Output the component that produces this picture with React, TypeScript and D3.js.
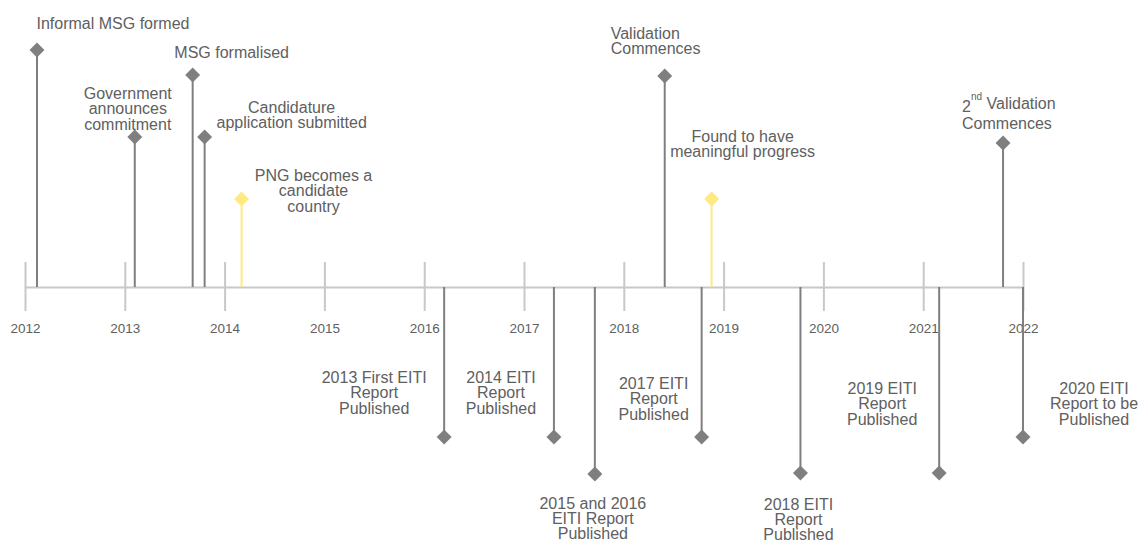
import React, { useRef, useEffect } from 'react'
import * as d3 from 'd3'

// year ticks along the timeline
const yearTicks = [2012, 2013, 2014, 2015, 2016, 2017, 2018, 2019, 2020, 2021, 2022]

// events: label (lines split by \n), date as fractional year, stem level (+ above, - below)
const eventNames = [
  'Informal MSG formed',
  'Government\nannounces\ncommitment',
  'MSG formalised',
  'Candidature\napplication submitted',
  'PNG becomes a\ncandidate\ncountry',
  'Validation\nCommences',
  'Found to have\nmeaningful progress',
  '2nd Validation\nCommences',
  '2013 First EITI\nReport\nPublished',
  '2014 EITI\nReport\nPublished',
  '2015 and 2016\nEITI Report\nPublished',
  '2017 EITI\nReport\nPublished',
  '2018 EITI\nReport\nPublished',
  '2019 EITI\nReport\nPublished',
  '2020 EITI\nReport to be\nPublished',
]
const eventDates = [2012.12, 2013.10, 2013.68, 2013.80, 2014.17, 2018.41, 2018.88, 2021.80,
  2016.20, 2017.30, 2017.71, 2018.78, 2019.77, 2021.16, 2022.00]
const eventLevels = [2.37, 1.50, 2.12, 1.50, 0.88, 2.11, 0.88, 1.44,
  -1.50, -1.50, -1.87, -1.50, -1.86, -1.86, -1.50]
const eventHighlight = [false, false, false, false, true, false, true, false,
  false, false, false, false, false, false, false]

// where each label sits relative to its diamond (first line centre)
const labelLayout = [
  { dx: 76, dy: -27, anchor: 'middle' },
  { dx: -7, dy: -44, anchor: 'middle' },
  { dx: 39, dy: -23, anchor: 'middle' },
  { dx: 87, dy: -30, anchor: 'middle' },
  { dx: 72, dy: -24, anchor: 'middle' },
  { dx: -54, dy: -43, anchor: 'start' },
  { dx: 31, dy: -63, anchor: 'middle' },
  { dx: -41, dy: -40, anchor: 'start', lh: 20.5 },
  { dx: -70, dy: -60, anchor: 'middle' },
  { dx: -53, dy: -60, anchor: 'middle' },
  { dx: -2, dy: 29, anchor: 'middle', lh: 15 },
  { dx: -48, dy: -54, anchor: 'middle' },
  { dx: -2, dy: 31, anchor: 'middle', lh: 15 },
  { dx: -57, dy: -85, anchor: 'middle' },
  { dx: 71, dy: -49, anchor: 'middle' },
]

const width = 1139
const height = 543
const axisY = 287
const font = '"Liberation Sans", Arial, sans-serif'
const textColor = '#606060'
const stemColor = '#7f7f7f'
const yellow = '#ffe980'
const axisColor = '#c8c8c8'

const App = () => {
  const svgRef = useRef(null)

  useEffect(() => {
    const svg = d3.select(svgRef.current)
    svg.selectAll('*').remove()

    const x = d3.scaleLinear().domain([2012, 2022]).range([25, 1023])
    const y = d3.scaleLinear().domain([0, 1]).range([axisY, axisY - 100])

    // axis with ticks crossing the line
    const axis = d3.axisBottom(x)
      .tickValues(yearTicks)
      .tickFormat(d3.format('d'))
      .tickSizeInner(24)
      .tickSizeOuter(0)

    svg.append('g')
      .attr('transform', `translate(0,${axisY})`)
      .attr('font-size', 13)
      .attr('font-family', font)
      .call(axis)
      .call(g => g.select('.domain')
        .attr('stroke', axisColor)
        .attr('stroke-width', 2))
      .call(g => g.selectAll('.tick line')
        .attr('stroke', axisColor)
        .attr('stroke-width', 2)
        .attr('y1', -25))
      .call(g => g.selectAll('.tick text')
        .attr('y', 41)
        .attr('dy', '0.35em')
        .attr('fill', textColor)
        .attr('font-size', 13.5)
        .attr('font-family', font))

    const I = d3.range(eventNames.length)

    const ev = svg.append('g')
      .selectAll('g')
      .data(I)
      .join('g')
      .attr('transform', i => `translate(${x(eventDates[i])},0)`)

    ev.append('line')
      .attr('y1', axisY)
      .attr('y2', i => y(eventLevels[i]))
      .attr('stroke', i => eventHighlight[i] ? yellow : stemColor)
      .attr('stroke-width', 2)

    const diamond = d3.symbol(d3.symbolSquare, 112)
    ev.append('path')
      .attr('d', diamond)
      .attr('transform', i => `translate(0,${y(eventLevels[i])}) rotate(45)`)
      .attr('fill', i => eventHighlight[i] ? yellow : stemColor)

    const txt = ev.append('text')
      .attr('font-family', font)
      .attr('font-size', 16)
      .attr('fill', textColor)
      .attr('text-anchor', i => labelLayout[i].anchor)

    txt.each(function (i) {
      const t = d3.select(this)
      const lay = labelLayout[i]
      const lh = lay.lh ?? 15.5
      const y0 = y(eventLevels[i]) + lay.dy
      eventNames[i].split('\n').forEach((line, k) => {
        const m = line.match(/^(\d+)(st|nd|rd|th) (.*)$/)
        if (m) {
          t.append('tspan')
            .attr('x', lay.dx)
            .attr('y', y0 + k * lh)
            .attr('dy', '0.55em')
            .text(m[1])
          t.append('tspan')
            .attr('font-size', 10)
            .attr('dy', '-1.2em')
            .text(m[2])
          t.append('tspan')
            .attr('dy', '0.55em')
            .text(' ' + m[3])
        } else {
          t.append('tspan')
            .attr('x', lay.dx)
            .attr('y', y0 + k * lh)
            .attr('dy', '0.35em')
            .text(line)
        }
      })
    })
  }, [])

  return (
    <svg
      ref={svgRef}
      width={width}
      height={height}
      style={{ position: 'absolute', left: 0, top: 0, background: '#fff' }}
    />
  )
}

export default App
